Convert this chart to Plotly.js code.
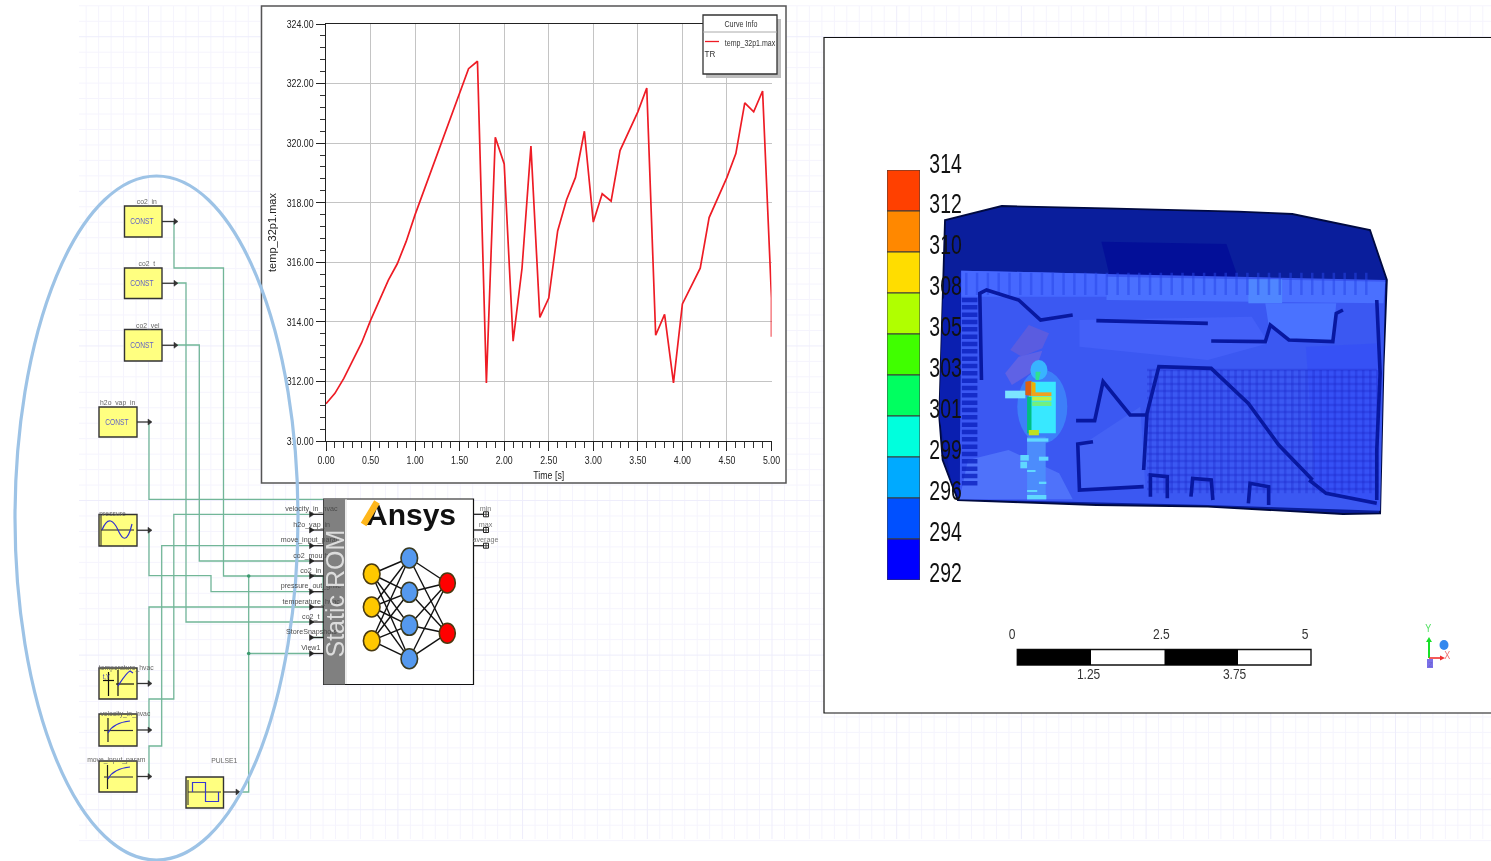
<!DOCTYPE html>
<html><head><meta charset="utf-8">
<script src="https://cdn.plot.ly/plotly-3.0.1.min.js"></script>
<style>html,body{margin:0;padding:0;background:#fff;overflow:hidden}#c{width:1491px;height:861px;filter:blur(0.4px)}</style>
</head><body><div id="c"></div>
<script>
// ---- chart data ----
const timeS = [0,0.1,0.2,0.3,0.4,0.5,0.6,0.7,0.8,0.9,1.0,1.1,1.2,1.3,1.4,1.5,1.6,1.7,1.8,1.9,2.0,2.1,2.2,2.3,2.4,2.5,2.6,2.7,2.8,2.9,3.0,3.1,3.2,3.3,3.4,3.5,3.6,3.7,3.8,3.9,4.0,4.1,4.2,4.3,4.4,4.5,4.6,4.7,4.8,4.9,5.0,5.0];
const tempMax = [311.25,311.6,312.1,312.7,313.3,314.05,314.75,315.4,315.95,316.7,317.6,318.42,319.23,320.05,320.9,321.72,322.5,322.75,311.95,320.2,319.3,313.35,315.8,319.9,314.15,314.8,317.05,318.1,318.85,320.4,317.35,318.3,318.05,319.75,320.4,321.05,321.85,313.55,314.25,311.95,314.6,315.2,315.8,317.5,318.2,318.85,319.65,321.35,321.05,321.75,314.8,313.5];
const bandLabels = ['314','312','310','308','305','303','301','299','296','294','292'];
const bandColours = ['#ff4000','#ff8800','#ffdd00','#b0ff00','#40ff00','#00ff60','#00ffdd','#00aaff','#0050ff','#0000ff'];
const scaleLabelsTop = ['0','2.5','5'];
const scaleLabelsBottom = ['1.25','3.75'];
const inputPorts = ['velocity_in_hvac','h2o_vap_in','move_input_param','co2_mouth','co2_in','pressure_out_grille','temperature_hvac','co2_t','StoreSnapshots','View1'];
const outputPorts = ['min','max','average'];

// ---- helpers: page pixels to paper fractions ----
const W=1491,H=861, SANS='"Liberation Sans",sans-serif';
const X=p=>p/W, Y=p=>1-p/H;
const shapes=[], notes=[], squeeze={};
function pathOf(pts,close){return pts.map((p,i)=>(i?'L':'M')+X(p[0]).toFixed(5)+','+Y(p[1]).toFixed(5)).join(' ')+(close?' Z':'');}
function addPath(d,fill,stroke,lw,layer,op){shapes.push({type:'path',xref:'paper',yref:'paper',path:d,fillcolor:fill||'rgba(0,0,0,0)',line:{color:stroke||'rgba(0,0,0,0)',width:stroke?(lw||1):0},layer:layer||'below',opacity:op==null?1:op});}
function poly(pts,fill,stroke,lw,layer,op){addPath(pathOf(pts,true),fill,stroke,lw,layer,op);}
function wire(pts,stroke,lw,layer,op){addPath(pathOf(pts,false),null,stroke,lw,layer,op);}
function rect(x0,y0,x1,y1,fill,stroke,lw,layer,op){shapes.push({type:'rect',xref:'paper',yref:'paper',x0:X(x0),x1:X(x1),y0:Y(y0),y1:Y(y1),fillcolor:fill||'rgba(0,0,0,0)',line:{color:stroke||'rgba(0,0,0,0)',width:stroke?(lw||1):0},layer:layer||'below',opacity:op==null?1:op});}
function oval(cx,cy,rx,ry,fill,stroke,lw,layer,op){shapes.push({type:'circle',xref:'paper',yref:'paper',x0:X(cx-rx),x1:X(cx+rx),y0:Y(cy-ry),y1:Y(cy+ry),fillcolor:fill||'rgba(0,0,0,0)',line:{color:stroke||'rgba(0,0,0,0)',width:stroke?(lw||1):0},layer:layer||'below',opacity:op==null?1:op});}
function text(t,x,y,size,color,k,extra){if(k&&k!==1)squeeze[notes.length]=k;notes.push(Object.assign({text:t,xref:'paper',yref:'paper',x:X(x),y:Y(y),showarrow:false,xanchor:'center',yanchor:'middle',borderpad:0,font:{family:SANS,size:size,color:color||'#333'}},extra||{}));}

// ---- page grid ----
let gMin='',gMaj='';
for(let i=-5;i<=108;i++){const x=148.5+i*12.47;if(x<79||x>1491)continue;const s=pathOf([[x,6],[x,839]],false)+' ';if(((i%10)+10)%10===0)gMaj+=s;else gMin+=s;}
for(let j=0;j<=54;j++){const y=5.8+j*15.46;const s=pathOf([[79,y],[1491,y]],false)+' ';if((j-2)%10===0)gMaj+=s;else gMin+=s;}
addPath(gMin,null,'#f5f4fd',1);addPath(gMaj,null,'#eeedfb',1);

// ---- panels ----
rect(824,37.5,1500,713,'#fff','#111',1.2);
rect(261.5,6,786,483,'#fff','#555',1.5);

// ---- schematic wires ----
const G='#72b698';
[[[174,221],[174,268],[223.5,268],[223.5,576],[323,576],[323,637.5],[311,637.5]],
 [[174,283],[186,283],[186,622],[311,622]],
 [[174,345],[199.3,345],[199.3,561],[311,561]],
 [[149,422],[149,499.3],[323,499.3]],
 [[149,530],[149,575.7],[211,575.7],[211,591.7],[311,591.7]],
 [[149,684],[149,607],[311,607]],
 [[149,730],[149,699],[173.8,699],[173.8,514.3],[311,514.3]],
 [[149,776],[149,746],[161.7,746],[161.7,545.7],[311,545.7]],
 [[240,792],[248.7,792],[248.7,576]],
 [[248.7,653.5],[311,653.5]]].forEach(p=>wire(p,G,1.3));
oval(248.7,576,1.8,1.8,'#3b9a6e');oval(248.7,653.5,1.8,1.8,'#3b9a6e');

// ---- source blocks ----
const YEL='#ffff80';
function block(x0,y0,x1,y1,arrowTo,name,nameX,nameY){
  rect(x0,y0,x1,y1,YEL,'#333',1.4);
  const ym=(y0+y1)/2;
  wire([[x1,ym],[arrowTo,ym]],'#333',1.3);
  poly([[arrowTo-3,ym-3],[arrowTo+1,ym],[arrowTo-3,ym+3]],'#333','#333',0.5);
  text(name,nameX,nameY,8,'#666',0.85);
}
function constLabel(x,y){text('CONST',x,y,8.5,'#6262c4',0.78);}
block(124.5,206,162,237,177,'co2_in',147,201.5);constLabel(142,221);
block(124.5,268,162,298.5,177,'co2_t',147,264);constLabel(142,283);
block(124.5,329.5,162,361,177,'co2_vel',148,325);constLabel(142,345);
block(99,407,137,437,151,'h2o_vap_in',117,402.5);constLabel(117.5,422);
block(99,514.5,137,546,151,'pressure',113,513);
wire([[101,514],[101,546]],'#333',1.1);wire([[101,530],[134,530]],'#222',1.1);
addPath(`M${X(102)},${Y(530)} C${X(108)},${Y(515)} ${X(114)},${Y(521)} ${X(118)},${Y(530)} S${X(127)},${Y(545)} ${X(132)},${Y(524)}`,null,'#3030d0',1.2);
block(99,668,137,699,151,'temperature_hvac',126,667);
wire([[108.5,672],[108.5,696]],'#111',1.2);wire([[103,680.5],[114,680.5]],'#111',1.2);
wire([[118,670],[118,696]],'#111',1.2);wire([[116,684],[134,684]],'#111',1.2);
addPath(`M${X(118)},${Y(686)} C${X(122)},${Y(680)} ${X(126)},${Y(673)} ${X(130)},${Y(671)} L${X(133)},${Y(673)}`,null,'#3030d0',1.2);
text('t,Y',106,676,7,'#44a',0.85);
block(99,714,137,746,151,'velocity_in_hvac',125,713.5);
wire([[108,718],[108,742]],'#222',1.2);wire([[104,730.5],[133,730.5]],'#333',1.2);
addPath(`M${X(108)},${Y(733)} C${X(112)},${Y(725)} ${X(120)},${Y(722)} ${X(130)},${Y(721)}`,null,'#3030d0',1.2);
block(99,761,137,792,151,'move_input_param',116,759.5);
wire([[107.5,765],[107.5,789]],'#222',1.2);wire([[104,777],[133,777]],'#444',1.2);
addPath(`M${X(108)},${Y(779)} C${X(112)},${Y(771)} ${X(120)},${Y(768)} ${X(130)},${Y(767)}`,null,'#3030d0',1.2);
rect(186,777,223.5,808,YEL,'#333',1.4);
wire([[223.5,792],[240,792]],'#333',1.3);poly([[236,789],[240,792],[236,795]],'#333','#333',0.5);
wire([[188,780],[188,805]],'#333',1.1);wire([[188,792],[221,792]],'#333',1.1);
wire([[192.5,792],[192.5,782.5],[205.5,782.5],[205.5,801.5],[218.5,801.5],[218.5,792]],'#3838d0',1.2);
text('PULSE1',224.5,760,8,'#666',0.85);

// ---- static ROM block ----
rect(323.7,499,473.5,684.5,'#fff','#111',1.2);
rect(323.7,499,345,684.5,'#808080');
rect(345,499.6,347,684,'#ececec');
const portYs=[514.3,530,545.7,561,576,591.7,607,622,637.5,653.5];
portYs.forEach((y,i)=>{
  wire([[311,y],[323.7,y]],'#222',1.3);
  poly([[309.5,y-3],[314,y],[309.5,y+3]],'#222','#222',0.5);
  text(inputPorts[i],311,y-6,8,'#4c4c4c',0.89);
});
const outYs=[514.3,530,545.7];
outYs.forEach((y,i)=>{
  wire([[473.5,y],[483.5,y]],'#222',1.3);
  rect(483.5,y-2.5,488.5,y+2.5,'#fff','#222',1);
  wire([[486,y-2.5],[486,y+2.5]],'#222',0.8);wire([[483.5,y],[488.5,y]],'#222',0.8);
  text(outputPorts[i],485,y-6,8,'#777',0.9);
});
text('Static ROM',334.5,594,25,'#dcdcdc',1,{textangle:-90});
const netIn=[[371.7,574],[371.7,607],[371.7,640.7]], netMid=[[409.3,558],[409.3,592.3],[409.3,625.3],[409.3,658.7]], netOut=[[447.3,583],[447.3,633.3]];
netIn.forEach(a=>netMid.forEach(b=>wire([a,b],'#111',1.4)));
netMid.forEach(a=>netOut.forEach(b=>wire([a,b],'#111',1.4)));
netIn.forEach(p=>oval(p[0],p[1],8.3,10,'#ffc800','#4a3a10',1.6));
netMid.forEach(p=>oval(p[0],p[1],8.3,10,'#5599ee','#3a3a20',1.6));
netOut.forEach(p=>oval(p[0],p[1],8,10,'#ff0000','#4a3a10',1.6));
text('Ansys',411,514,29,'#111',1,{font:{family:SANS,size:30,color:'#111',weight:700}});
notes.push({xref:'paper',yref:'paper',x:X(377),y:Y(502),ax:-14.3,ay:24,axref:'pixel',ayref:'pixel',text:'',showarrow:true,arrowhead:0,arrowwidth:6.5,arrowcolor:'#ffb71b',standoff:0,startstandoff:0});

// ---- thermal picture (illustration), zoom crop coordinates ----
const z=pts=>pts.map(p=>[870+p[0]/2.96,140+p[1]/3]);
poly(z([[222,240],[390,198],[700,205],[1090,215],[1250,222],[1480,270],[1530,420],[1520,680],[1510,1120],[1400,1122],[1000,1100],[670,1095],[260,1080],[215,960],[205,830],[215,480]]),'#0a1e9c','#000a40',1.8);
poly(z([[685,305],[1055,312],[1090,415],[710,410]]),'#030f98');
poly(z([[270,392],[700,402],[1525,420],[1510,1112],[1000,1095],[265,1078]]),'#3b58f2');
poly(z([[215,480],[270,392],[265,1078],[240,1020],[205,830]]),'#0a1fb0');
// upper lighter band and pale columns
poly(z([[270,392],[700,402],[700,470],[270,470]]),'#4668ff');
poly(z([[700,410],[1525,425],[1520,490],[700,480]]),'#4a70ff');
rect(870+1120/2.96,140+418/3,870+1220/2.96,140+490/3,'#4f86ff');
poly(z([[1170,490],[1380,490],[1370,600],[1240,600],[1180,555]]),'#4a72ff');
poly(z([[1290,620],[1510,610],[1505,1100],[1320,1050]]),'#3650f5',null,0,'below',0.8);
poly(z([[290,960],[410,930],[560,1000],[600,1078],[265,1078]]),'#4f72fa');
poly(z([[620,540],[1130,530],[1180,610],[1000,660],[620,620]]),'#4460f8');
poly(z([[620,920],[800,800],[815,1040],[620,1050]]),'#4462f5');
poly(z([[415,630],[470,555],[530,580],[510,625],[450,650]]),'#5a5ce0');
poly(z([[400,700],[440,650],[510,632],[490,690],[420,735]]),'#5f62e5');
// cell texture
let tx='',ty='';
for(let i=0;i<33;i++){const x=830+i*21;tx+=pathOf(z([[x,690],[x,1060]]),false)+' ';}
for(let j=0;j<18;j++){const y=690+j*21;ty+=pathOf(z([[820,y],[1500,y]]),false)+' ';}
addPath(tx,null,'#1a24c8',2.6,'below',0.3);addPath(ty,null,'#1a24c8',2.6,'below',0.3);
let lx='';for(let j=0;j<26;j++){const y=480+j*22;lx+=pathOf(z([[272,y],[318,y]]),false)+' ';}
addPath(lx,null,'#0c22c0',4.5,'below',0.8);
let ux='';for(let i=0;i<38;i++){const x=285+i*32;ux+=pathOf(z([[x,398],[x,465]]),false)+' ';}
addPath(ux,null,'#2846e8',2.5,'below',0.5);
// dark wall contours
const D='#0818a0';
[[[330,720],[325,460],[345,450],[440,480],[505,540],[600,525]],
 [[670,542],[1000,550]],
 [[1010,603],[1170,605],[1185,555],[1240,600],[1370,605],[1380,520],[1400,510]],
 [[810,990],[820,820],[855,680],[1010,685],[1120,790],[1210,915],[1310,1020]],
 [[610,842],[665,842],[690,725],[770,825],[820,825]],
 [[660,905],[615,912],[620,1050],[810,1040]],
 [[830,1070],[830,1005],[880,1010],[880,1075]],[[950,1070],[955,1015],[1010,1020],[1015,1080]],
 [[1120,1090],[1125,1030],[1180,1040],[1180,1095]],[[1300,1020],[1350,1060],[1500,1090]],
 [[1500,480],[1510,700],[1500,930],[1500,1080]]].forEach(p=>wire(z(p),D,3.6));
// person
oval(870+510/2.96,140+800/3,25,37,'#40a0ff',null,0,'below',0.55);
oval(870+500/2.96,140+690/3,8.5,10,'#38b4ff');
poly(z([[490,695],[505,695],[500,720],[490,720]]),'#30e090');
poly(z([[470,725],[550,725],[550,880],[470,880]]),'#38e8ff');
poly(z([[400,752],[460,752],[460,775],[400,775]]),'#7ce4ff');
poly(z([[460,725],[478,722],[478,768],[460,765]]),'#e06010');
poly(z([[478,725],[490,728],[490,768],[478,768]]),'#f0b000');
poly(z([[465,770],[478,770],[478,880],[465,880]]),'#00c080');
poly(z([[480,757],[537,757],[537,768],[480,768]]),'#f0a020');
poly(z([[480,770],[537,770],[537,782],[480,782]]),'#c0f040');
poly(z([[480,785],[537,785],[537,798],[480,798]]),'#70f080');
poly(z([[470,870],[500,870],[500,886],[470,886]]),'#c0e020');
poly(z([[465,890],[520,890],[520,1078],[465,1078]]),'#4c8cfc');
[[465,895,528,905],[445,945,470,962],[500,950,528,962],[465,990,490,996],[500,1025,522,1032],[465,1050,495,1056],[465,1065,522,1078],[445,965,465,985]].forEach(r=>poly(z([[r[0],r[1]],[r[2],r[1]],[r[2],r[3]],[r[0],r[3]]]),'#60d8ff'));

// ---- legend of the thermal picture: labels ----
bandLabels.forEach((t,i)=>text(t,945,163.5+i*40.95,27,'#111',0.72));

// ---- scale bar ----
rect(1017.3,649.5,1311,665,'#fff','#111',1.4);
rect(1017.3,649.5,1091,665,'#000');rect(1164.5,649.5,1238,665,'#000');
[[1012,633],[1161,633],[1305,633]].forEach((p,i)=>text(scaleLabelsTop[i],p[0],p[1],15,'#333',0.8));
[[1088,673],[1234,673]].forEach((p,i)=>text(scaleLabelsBottom[i],p[0],p[1],15,'#333',0.8));
// triad
wire([[1429,658],[1429,640]],'#18e028',2);poly([[1426,642],[1429,637],[1432,642]],'#18e028');
wire([[1429,658],[1442,658]],'#f03030',1.6);poly([[1440,655.5],[1445,658],[1440,660.5]],'#f03030');
oval(1444,645,4.5,5,'#3388ee');
rect(1427,659,1433,668,'#7a70e8');
text('Y',1428.5,628,10,'#50e060',0.9);text('X',1447,655,10,'#f07070',0.9);text('Z',1430,664,8,'#6a60d0',0.9);

// ---- curve info box ----
rect(706,19,781,78,'#bdbdbd',null,0,'above');
rect(703,15,777,74,'#fff','#333',1.3,'above');
wire([[703,32],[777,32]],'#aaa',1,'above');
wire([[705,41.5],[719,41.5]],'#ee1c25',1.3,'above');
text('Curve Info',740.5,24,9.5,'#333',0.75);
text('temp_32p1.max',750,42,9.5,'#333',0.74);
text('TR',710,54,9,'#333',0.9);

// ---- selection ellipse, above everything ----
oval(156.5,518,141.5,342,null,'#9dc3e6',3.2,'above');

const traces=[
 {type:'scatter',mode:'lines',x:timeS,y:tempMax,name:'temp_32p1.max',line:{color:'#ee1c25',width:1.7},xaxis:'x',yaxis:'y',hoverinfo:'x+y'},
 {type:'bar',x:bandColours.map(()=>0),y:bandColours.map(()=>1),base:bandColours.map((c,i)=>9-i),width:1,marker:{color:bandColours,line:{color:'#3a3a3a',width:1}},xaxis:'x2',yaxis:'y2',hoverinfo:'skip'}
];
const tickFont={family:SANS,size:11,color:'#222'};
const layout={
 width:W,height:H,margin:{l:0,r:0,t:0,b:0},paper_bgcolor:'#fff',plot_bgcolor:'#fff',showlegend:false,bargap:0,
 xaxis:{domain:[X(326),X(771.5)],range:[0,5],dtick:0.5,tick0:0,tickformat:'.2f',ticks:'outside',ticklen:9,tickcolor:'#222',tickwidth:1,tickfont:tickFont,showgrid:true,gridcolor:'#c4c4c4',gridwidth:1,zeroline:false,showline:true,linecolor:'#222',linewidth:1.2,mirror:true,
   minor:{dtick:0.1,ticks:'outside',ticklen:6,tickcolor:'#333',tickwidth:1,showgrid:false},
   title:{text:'Time [s]',font:{family:SANS,size:11,color:'#222'},standoff:5},anchor:'y'},
 yaxis:{domain:[Y(441),Y(24)],range:[310,324],dtick:2,tick0:310,tickformat:'.2f',ticks:'outside',ticklen:9,tickcolor:'#222',tickwidth:1,tickfont:tickFont,showgrid:true,gridcolor:'#c4c4c4',gridwidth:1,zeroline:false,showline:true,linecolor:'#222',linewidth:1.2,
   minor:{dtick:0.4,ticks:'outside',ticklen:5,tickcolor:'#333',tickwidth:1,showgrid:false},
   title:{text:'temp_32p1.max',font:{family:SANS,size:11,color:'#222'},standoff:1},anchor:'x'},
 xaxis2:{domain:[X(887),X(920)],range:[-0.5,0.5],visible:false,anchor:'y2',fixedrange:true},
 yaxis2:{domain:[Y(580),Y(170)],range:[0,10],visible:false,anchor:'x2',fixedrange:true},
 shapes:shapes,annotations:notes
};
function narrow(el,k){const n=el.getComputedTextLength();if(n>0){el.setAttribute('textLength',(n*k).toFixed(1));el.setAttribute('lengthAdjust','spacingAndGlyphs');}}
Plotly.newPlot('c',traces,layout,{displayModeBar:false,staticPlot:true}).then(()=>{
  document.querySelectorAll('#c .annotation').forEach(g=>{const k=squeeze[g.getAttribute('data-index')];const t=g.querySelector('.annotation-text');if(k&&t)narrow(t,k);});
  document.querySelectorAll('#c .xtick text, #c .ytick text, #c .xtitle').forEach(t=>narrow(t,0.8));
});
</script></body></html>
